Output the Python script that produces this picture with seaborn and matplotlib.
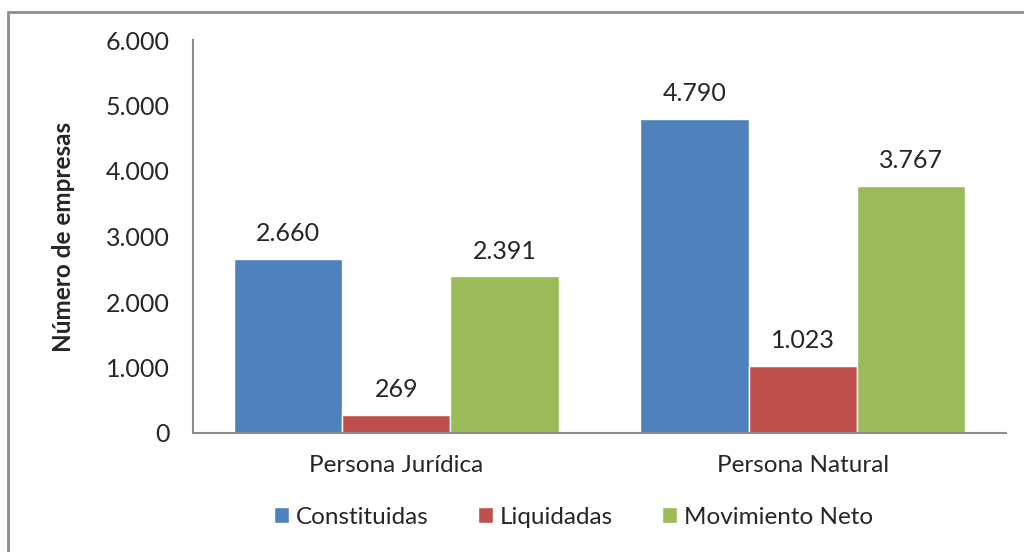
import pandas as pd
import matplotlib
matplotlib.use("Agg")
import matplotlib.pyplot as plt
import seaborn as sns
from matplotlib.patches import Rectangle
from matplotlib.ticker import FuncFormatter

categories = ["Persona Jurídica", "Persona Natural"]
series = ["Constituidas", "Liquidadas", "Movimiento Neto"]
constituidas = [2660, 4790]
liquidadas = [269, 1023]
movimiento_neto = [2391, 3767]
colors = ["#4F81BD", "#C0504D", "#9BBB59"]

df = pd.DataFrame({
    "categoria": categories * 3,
    "serie": [s for s in series for _ in categories],
    "valor": constituidas + liquidadas + movimiento_neto,
})

sns.set_style("white")
plt.rcParams["font.family"] = ["Lato", "DejaVu Sans"]

def miles(v, pos=None):
    return f"{int(round(v)):,}".replace(",", ".")

fig = plt.figure(figsize=(10.24, 5.52), dpi=100)
ax = fig.add_axes([193 / 1024, 1 - 433 / 552, (1006 - 193) / 1024, (433 - 40) / 552])

sns.barplot(data=df, x="categoria", y="valor", hue="serie", hue_order=series,
            palette=colors, saturation=1, width=0.8, ax=ax, legend=True)

for cont in ax.containers:
    ax.bar_label(cont, labels=[miles(b.get_height()) for b in cont], padding=10, fontsize=18)

ax.set_xlim(-0.5, 1.5)
ax.set_ylim(0, 6000)
ax.set_yticks(range(0, 6001, 1000))
ax.yaxis.set_major_formatter(FuncFormatter(miles))
ax.tick_params(axis="both", length=0)
ax.tick_params(axis="y", pad=17, labelsize=18)
ax.tick_params(axis="x", pad=16, labelsize=17.5)
ax.set_xlabel("")
ax.set_ylabel("Número de empresas", fontsize=17.5, fontweight="bold", labelpad=22)

for side in ["top", "right"]:
    ax.spines[side].set_visible(False)
for side in ["left", "bottom"]:
    ax.spines[side].set_color("#8c8c8c")
    ax.spines[side].set_linewidth(1.5)

ax.legend_.remove()
handles, labels = ax.get_legend_handles_labels()
fig.legend(handles, labels, loc="center", bbox_to_anchor=(0.56, 1 - 517 / 552), ncol=3,
           frameon=False, fontsize=17.5, handlelength=0.62, handleheight=0.62,
           handletextpad=0.3, columnspacing=2.0)

fig.patches.append(Rectangle((8 / 1024, -0.2), 1.2, 1.2 - 12 / 552, transform=fig.transFigure,
                             fill=False, edgecolor="#8c8c8c", linewidth=2))

fig.savefig("out.png", dpi=100)
